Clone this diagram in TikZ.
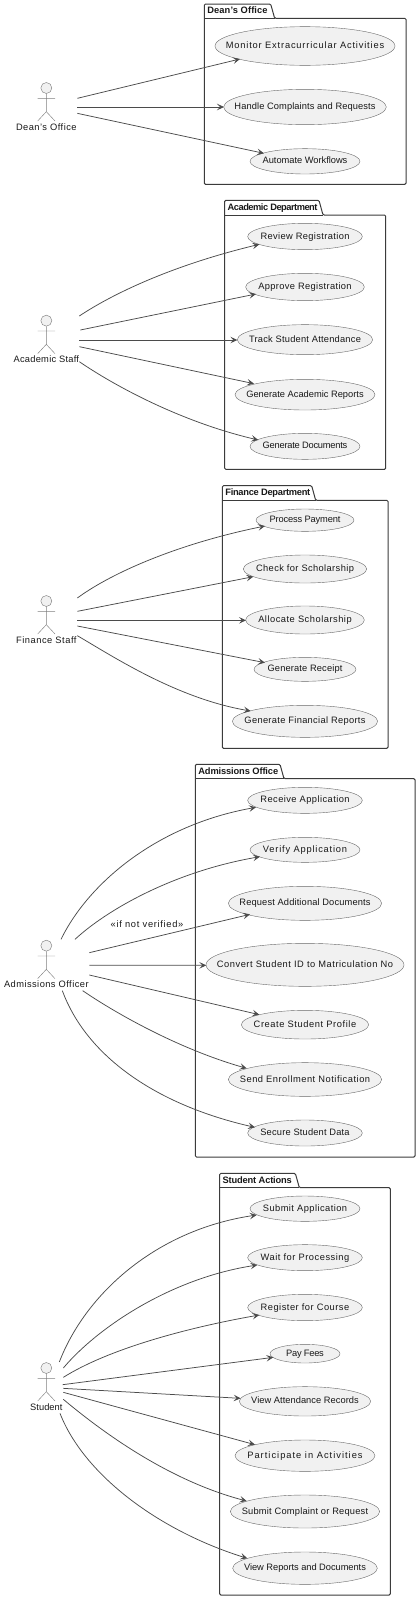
\documentclass[tikz,border=0pt]{standalone}
\usepackage{fontspec}
\setmainfont{Liberation Sans}
\usetikzlibrary{shapes.geometric,arrows.meta}
\definecolor{ink}{HTML}{181818}
\definecolor{soft}{HTML}{F1F1F1}
\ExplSyntaxOn
\NewDocumentCommand\fitt{mm}{
  \hbox_set:Nn \l_tmpa_box {#2}
  \fp_set:Nn \l_tmpa_fp { ((#1)/3 - \dim_to_fp:n{\box_wd:N \l_tmpa_box}) / (\str_count:n{#2}-1) / 9.3 * 100 }
  \addfontfeature{LetterSpace=\fp_eval:n{round(\l_tmpa_fp,2)}}#2
}
\ExplSyntaxOff
\tikzset{
  usecase/.style={ellipse,draw=ink!65,line width=0.4pt,fill=soft,inner sep=0pt,text=ink,
    font=\fontsize{9.3}{11}\selectfont,text height=7pt,text depth=2pt},
  conn/.style={draw=ink!78,line width=0.75pt,-{Stealth[length=7pt,width=6.5pt,inset=3pt]}},
  pack/.style={draw=ink!85,line width=1pt,rounded corners=1.2pt},
  packtitle/.style={anchor=west,inner sep=0pt,text=ink,font=\fontsize{9.3}{11}\selectfont\bfseries,text height=7pt,text depth=2pt},
  actorbox/.style={inner sep=0pt,minimum height=50pt},
  actorlabel/.style={inner sep=0pt,text=ink,font=\fontsize{9.3}{11}\selectfont,text height=7pt,text depth=2pt},
  edgelabel/.style={inner sep=0pt,text=ink,font=\fontsize{9.3}{11}\selectfont},
  stickman/.pic={
    \draw[draw=ink!55,line width=0.45pt,fill=soft] (0,0) circle[radius=16.5];
    \draw[draw=ink!55,line width=0.45pt] (0,17)--(0,71) (-26,31)--(26,31) (-26,99)--(0,71)--(26,99);
  }
}
% name, cy, rx, ry, text width, text
\newcommand\uc[6]{\node[usecase,minimum width=#3*0.66667pt,minimum height=#4*0.66667pt] (#1) at (915,#2) {\makebox[0pt]{\fitt{#5}{#6}}};}
\newcommand\pkg[9]{%
  \draw[pack] (#2,#6)--(#2,#5)--(#8,#5)--(#9,#6)--(#3,#6)--(#3,#4)--(#2,#4)--cycle;
  \draw[pack] (#2,#6)--(#9,#6);
  \node[packtitle] (#1) at (#2+8.5,#5+22) {#7};}
\newcommand\actorfig[5]{%
  \node[actorbox,minimum width=#3*0.33333pt] (#1) at (139,#2+56) {};
  \pic at (139,#2) {stickman};
  \node[actorlabel] (#4) at (139,#2+119) {#5};}
\newcommand\lnk[4]{\draw[conn] ([shift={(#2)}]#1.center) -- ([shift={(#4)}]#3.center);}
\newcommand\crv[5]{\draw[conn] ([shift={(#2)}]#1.center) .. controls #5 .. ([shift={(#4)}]#3.center);}
\begin{document}
\begin{tikzpicture}[x=0.33333pt,y=-0.33333pt]
\useasboundingbox (0,0) rectangle (1260,4800);
% Dean's Office
\begin{scope}
  \pkg{tdean}{613}{1218}{553}{12}{55}{\fitt{181}{Dean's Office}}{812}{824}
  \uc{d1}{138}{270}{58}{480}{Monitor Extracurricular Activities}
  \uc{d2}{321}{244}{53}{424}{Handle Complaints and Requests}
  \uc{d3}{484}{165}{38}{254}{Automate Workflows}
  \actorfig{dean}{264}{186}{ldean}{\fitt{183}{Dean's Office}}
  \lnk{dean}{93,-25}{d1}{-195,39}
  \lnk{dean}{93,1}{d2}{-243,0}
  \lnk{dean}{93,20}{d3}{-123,-24}
\end{scope}
% Academic Department
\begin{scope}[shift={(0,570)}]
  \pkg{tacad}{674}{1157}{838}{31}{75}{\fitt{268}{Academic Department}}{957}{969}
  \uc{a1}{139.5}{172}{39.5}{268}{Review Registration}
  \uc{a2}{291}{178}{41}{281}{Approve Registration}
  \uc{a3}{449}{203}{45}{337}{Track Student Attendance}
  \uc{a4}{614}{210}{46}{352}{Generate Academic Reports}
  \uc{a5}{769}{165}{39}{253}{Generate Documents}
  \actorfig{acad}{392}{198}{lacad}{\fitt{197}{Academic Staff}}
  \crv{acad}{99,-70}{a1}{-137,23.5}{(340,310) and (520,225)}
  \lnk{acad}{102,-28}{a2}{-147,21}
  \lnk{acad}{99,2}{a3}{-203,1}
  \lnk{acad}{99,22}{a4}{-153,-33}
  \crv{acad}{99,67}{a5}{-140,-19}{(340,585) and (540,695)}
\end{scope}
% Finance Department
\begin{scope}[shift={(0,1410)}]
  \pkg{tfin}{667}{1164}{835}{47}{91}{\fitt{254}{Finance Department}}{935}{947}
  \uc{f1}{150.5}{147}{33.5}{212}{Process Payment}
  \uc{f2}{297}{185}{42}{296}{Check for Scholarship}
  \uc{f3}{450}{178}{42}{282}{Allocate Scholarship}
  \uc{f4}{598}{153}{36}{225}{Generate Receipt}
  \uc{f5}{754}{218}{48}{365}{Generate Financial Reports}
  \actorfig{fin}{393}{186}{lfin}{\fitt{183}{Finance Staff}}
  \crv{fin}{93,-65}{f1}{-120,17.5}{(340,305) and (540,220)}
  \lnk{fin}{93,-25}{f2}{-155,23}
  \lnk{fin}{93,2}{f3}{-177,1}
  \lnk{fin}{93,19}{f4}{-120,-20}
  \crv{fin}{93,48}{f5}{-163,-31}{(340,560) and (530,685)}
\end{scope}
% Admissions Office
\begin{scope}[shift={(0,2220)}]
  \pkg{tadm}{586}{1245}{1251}{73}{116}{\fitt{239}{Admissions Office}}{840}{852}
  \uc{o1}{181}{172}{39}{269}{Receive Application}
  \uc{o2}{329.5}{165}{37.5}{255}{Verify Application}
  \uc{o3}{490}{230}{51}{394}{Request Additional Documents}
  \uc{o4}{674.5}{297}{64.5}{536}{Convert Student ID to Matriculation No}
  \uc{o5}{854}{191}{43}{311}{Create Student Profile}
  \uc{o6}{1018.5}{230}{50.5}{394}{Send Enrollment Notification}
  \uc{o7}{1179}{172}{39}{269}{Secure Student Data}
  \actorfig{adm}{617}{256}{ladm}{\fitt{255}{Admissions Officer}}
  \crv{adm}{44,-75}{o1}{-147,21}{(265,430) and (470,255)}
  \crv{adm}{86,-75}{o2}{-135,20.5}{(320,510) and (520,395)}
  \lnk{adm}{129,-35}{o3}{-165,33}
  \node[edgelabel] (lverif) at (441,553) {\fitt{222}{«if not verified»}};
  \lnk{adm}{129,3}{o4}{-296,1.5}
  \lnk{adm}{129,32}{o5}{-137,-30}
  \crv{adm}{109,79}{o6}{-175,-33.5}{(340,815) and (530,925)}
  \crv{adm}{48,79}{o7}{-150,-17}{(260,950) and (470,1095)}
\end{scope}
% Student Actions
\begin{scope}[shift={(0,3420)}]
  \pkg{tstu}{659}{1171}{1365}{100}{143}{\fitt{207}{Student Actions}}{886}{898}
  \uc{s1}{206}{165}{38}{254}{Submit Application}
  \uc{s2}{353}{172}{39}{269}{Wait for Processing}
  \uc{s3}{502.5}{172}{39.5}{269}{Register for Course}
  \uc{s4}{641}{105}{28}{112}{Pay Fees}
  \uc{s5}{784}{197}{44}{323}{View Attendance Records}
  \uc{s6}{947}{210}{47}{352}{Participate in Activities}
  \uc{s7}{1114.5}{224}{49.5}{381}{Submit Complaint or Request}
  \uc{s8}{1284.5}{217}{48.5}{365}{View Reports and Documents}
  \actorfig{stu}{684}{102}{lstu}{\fitt{97}{Student}}
  \crv{stu}{39,-74}{s1}{-145,19}{(255,465) and (465,270)}
  \crv{stu}{51,-56}{s2}{-143,22}{(290,565) and (510,415)}
  \crv{stu}{51,-28}{s3}{-137,22.5}{(320,630) and (550,565)}
  \lnk{stu}{49,-6}{s4}{-95,11}
  \lnk{stu}{51,5}{s5}{-193,-9}
  \lnk{stu}{51,17}{s6}{-150,-33}
  \crv{stu}{51,38}{s7}{-175,-31.5}{(300,870) and (500,1020)}
  \crv{stu}{41,80}{s8}{-173,-29.5}{(250,1000) and (470,1170)}
\end{scope}
\end{tikzpicture}
\end{document}
